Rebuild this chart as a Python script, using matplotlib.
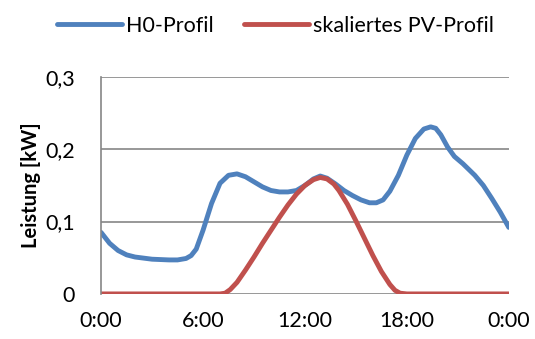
import matplotlib
matplotlib.use('Agg')
from matplotlib import pyplot as plt

# Stunden und Leistungen
h0_hours = [0, 0.5, 1, 1.5, 2, 3, 4, 4.5, 5, 5.3, 5.6, 6, 6.5, 7, 7.5, 8, 8.5, 9,
            9.5, 10, 10.5, 11, 11.5, 12, 12.5, 12.9, 13.3, 13.8, 14.3, 14.8, 15.3,
            15.8, 16.2, 16.6, 17, 17.5, 18, 18.5, 19, 19.4, 19.7, 20, 20.4, 20.8,
            21.3, 22, 22.5, 23, 23.5, 24]
h0_kw = [0.085, 0.070, 0.060, 0.054, 0.051, 0.048, 0.047, 0.047, 0.049, 0.053,
         0.062, 0.088, 0.125, 0.153, 0.164, 0.166, 0.162, 0.155, 0.148, 0.143,
         0.141, 0.141, 0.143, 0.150, 0.159, 0.163, 0.160, 0.152, 0.143, 0.136,
         0.130, 0.126, 0.126, 0.130, 0.142, 0.164, 0.192, 0.215, 0.228, 0.231,
         0.229, 0.220, 0.203, 0.190, 0.180, 0.164, 0.150, 0.132, 0.113, 0.092]

pv_hours = [0, 7, 7.3, 7.6, 8, 8.5, 9, 9.5, 10, 10.5, 11, 11.5, 12, 12.5, 12.9,
            13.3, 13.7, 14, 14.5, 15, 15.5, 16, 16.5, 17, 17.3, 17.6, 18, 24]
pv_kw = [0, 0, 0.001, 0.006, 0.016, 0.033, 0.051, 0.070, 0.088, 0.106, 0.123,
         0.138, 0.150, 0.158, 0.161, 0.159, 0.152, 0.143, 0.124, 0.101, 0.077,
         0.053, 0.031, 0.013, 0.005, 0.001, 0, 0]

x_ticks = [0, 6, 12, 18, 24]
x_labels = ['0:00', '6:00', '12:00', '18:00', '0:00']
y_ticks = [0, 0.1, 0.2, 0.3]
y_labels = ['0', '0,1', '0,2', '0,3']

plt.rcParams['font.family'] = ['Lato', 'DejaVu Sans']

fig = plt.figure(figsize=(5.35, 3.39), dpi=100)
ax = fig.add_axes([0.189, 0.133, 0.762, 0.640])

ax.plot(h0_hours, h0_kw, color='#4F81BD', lw=3.5, solid_capstyle='round',
        solid_joinstyle='round', label='H0-Profil')
ax.plot(pv_hours, pv_kw, color='#C0504D', lw=3.5, solid_capstyle='round',
        solid_joinstyle='round', label='skaliertes PV-Profil')

ax.set_xlim(0, 24)
ax.set_ylim(0, 0.3)
ax.set_xticks(x_ticks)
ax.set_xticklabels(x_labels)
ax.set_yticks(y_ticks)
ax.set_yticklabels(y_labels)
ax.tick_params(axis='both', length=0, labelsize=15.5)
ax.tick_params(axis='y', pad=19)
ax.tick_params(axis='x', pad=12)

for y in y_ticks:
    ax.axhline(y, color='#868686', lw=1.2, zorder=0)
for s in ['top', 'right', 'bottom']:
    ax.spines[s].set_visible(False)
ax.spines['left'].set_color('#868686')
ax.spines['left'].set_linewidth(1.2)

ax.set_ylabel('Leistung [kW]', fontsize=14.5, fontweight='bold', labelpad=3)

fig.legend(loc='upper center', bbox_to_anchor=(0.515, 1.01), ncol=2, frameon=False,
           fontsize=15.5, handlelength=3.0, handletextpad=0.2, columnspacing=1.4)

fig.savefig('out.png', dpi=100)
